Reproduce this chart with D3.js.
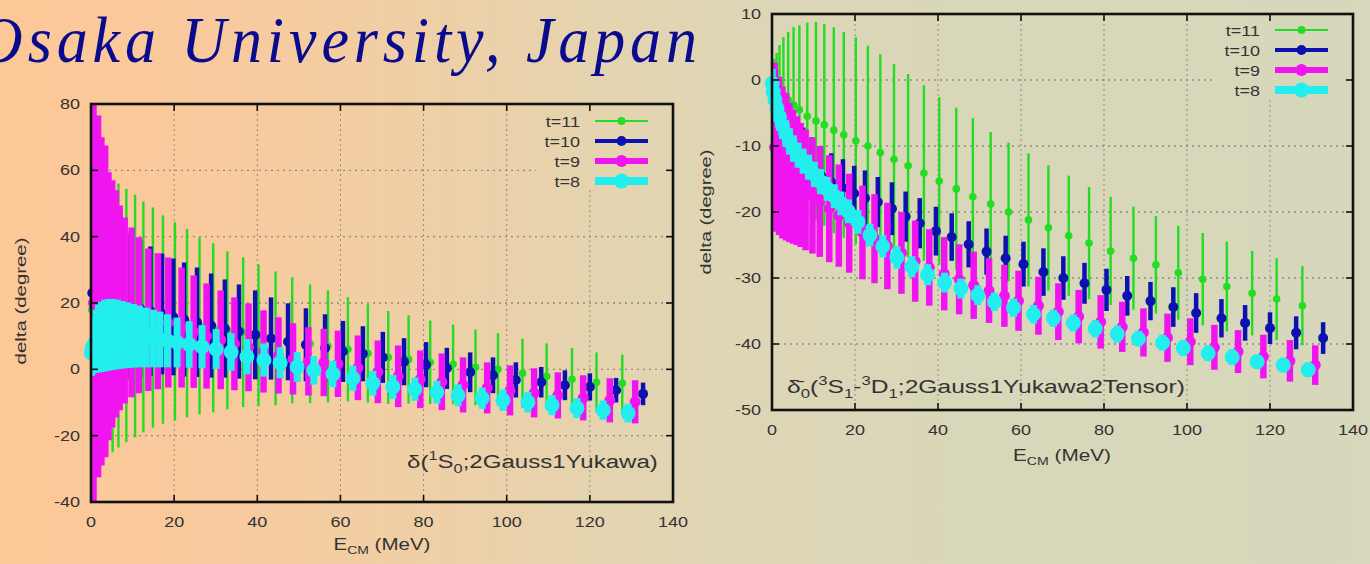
<!DOCTYPE html>
<html><head><meta charset="utf-8">
<script src="https://cdn.jsdelivr.net/npm/d3@7"></script>
<style>html,body{margin:0;padding:0;overflow:hidden;background:#e8d2ad}svg{display:block}</style>
</head><body>
<svg id="c" width="1370" height="564"></svg>
<script>
// ---------------- DATA ----------------
const titleText = "Osaka University, Japan";
const xTicks = [0, 20, 40, 60, 80, 100, 120, 140];
const yTicks1S0 = [-40, -20, 0, 20, 40, 60, 80];
const yTicksMix = [-50, -40, -30, -20, -10, 0, 10];
const seriesLabels = ["t=11", "t=10", "t=9", "t=8"];

// energies (MeV) of each time slice
const E_t11 = [0.2, 0.55, 1.1, 1.8, 2.75, 3.9, 5.2, 6.6, 8.5, 10.6, 12.6, 14.9, 17.3, 20.2, 23.1, 26.1, 29.4, 32.8, 36.6, 40.3, 44.4, 48.4, 52.7, 57, 61.8, 66.6, 71.5, 76.4, 81.6, 87.1, 92.5, 97.9, 103.8, 109.6, 115.7, 121.6, 127.8];
const E_t10 = [0.3, 0.9, 1.6, 2.6, 4.0, 5.6, 7.5, 9.5, 11.8, 14.3, 17.1, 19.8, 22.4, 25.5, 28.9, 32.2, 35.6, 39.5, 43.3, 47.4, 51.7, 56.3, 60.6, 65.4, 70.2, 75.3, 80.6, 85.6, 91.2, 96.7, 102.2, 108.3, 114, 120, 126.3, 132.8];
const E_t9 = [0.6, 1.7, 2.5, 3.4, 4.2, 5.1, 6.0, 6.9, 8.1, 9.75, 11.5, 13.8, 16.1, 18.6, 21.8, 24.7, 27.8, 31.2, 34.5, 37.9, 41.5, 45.1, 48.6, 52.3, 56, 59.4, 64.2, 69, 73.9, 79.2, 84.4, 89.5, 95.3, 100.8, 106.6, 112.3, 118.4, 124.8, 130.9];
const E_t8 = [0.05, 0.3, 0.7, 1.2, 1.8, 2.5, 3.3, 4.2, 5.2, 6.3, 7.5, 8.8, 10.2, 11.7, 13.3, 15.0, 16.6, 18.4, 20.7, 23.6, 26.7, 30.1, 33.7, 37.5, 41.6, 45.5, 49.6, 53.6, 58.2, 63, 67.8, 72.6, 77.9, 83.2, 88.3, 94.1, 99.1, 105.1, 110.9, 116.9, 123.2, 129.2];

// left panel: delta(1S0), degrees, and errors
const d1S0_t11 = [18, 18, 18, 18, 17, 16, 15, 16.2, 16.2, 16.1, 15.8, 15.6, 15, 14.5, 13.9, 13.1, 12.5, 11.75, 11.2, 10.25, 9.35, 8.75, 7.7, 6.95, 6.05, 4.8, 3.6, 3.0, 2.1, 1.5, 0.6, 0, -1.2, -2.1, -3, -3.9, -4.2];
const e1S0_t11 = [55, 52, 50, 48, 45, 42, 40, 39.8, 38.2, 36.6, 34.8, 33.2, 31.4, 29.9, 28.4, 26.7, 25.5, 23.8, 22.6, 21.4, 20.2, 19, 17.9, 16.9, 15.7, 14.8, 14.0, 13.3, 12.6, 12.0, 11.4, 10.9, 10.4, 9.9, 9.4, 9.0, 8.6];
const d1S0_t10 = [23, 22.5, 22, 22, 21, 20.5, 20, 19, 18.3, 17.5, 16.7, 15.8, 15, 14.2, 13.2, 12.3, 11.4, 10.4, 9.3, 8.3, 7.4, 6.4, 5.4, 4.7, 3.6, 2.3, 1.4, 0.3, -0.9, -1.8, -3.2, -3.9, -4.8, -5.3, -6.3, -7.4];
const e1S0_t10 = [34, 32, 30, 28, 26, 24.5, 23, 22, 20.7, 19.5, 18.2, 17.6, 17.2, 16.5, 15.7, 14.8, 14.2, 13.4, 12.4, 11.6, 11, 10.2, 9.2, 8.3, 7.7, 7.1, 6.8, 6.2, 6, 5.4, 5.3, 4.6, 4.5, 4.1, 3.7, 3.4];
const d1S0_t9 = [20, 22, 20.5, 20.5, 19, 19.75, 19.75, 18.55, 17.75, 17.2, 16.3, 14.95, 14.5, 14.1, 12.6, 11.35, 10.05, 8.9, 7.7, 6.65, 5.4, 4.2, 3.15, 2.4, 2.05, 1.65, 0.45, -0.75, -2.1, -3, -3.75, -4.7, -5.6, -6.35, -7.1, -7.85, -8.6, -9.35, -9.8];
const e1S0_t9 = [65, 54.5, 49.5, 47, 40.4, 37.25, 34.25, 30.85, 28.05, 25.6, 23.5, 21.45, 20.5, 19.6, 18.1, 16.95, 15.85, 14.9, 14, 13.25, 12.4, 11.5, 10.75, 10.3, 10.15, 10, 9.75, 9.45, 9.3, 8.7, 8.55, 8.3, 7.7, 7.55, 7.4, 6.95, 6.8, 6.65, 6.5];
const d1S0_t8 = [5, 6.5, 7.5, 8.5, 9.3, 9.8, 10.2, 10.4, 10.5, 10.5, 10.4, 10.3, 10.1, 9.9, 9.6, 9.3, 9.0, 8.6, 8.1, 7.5, 6.8, 6.1, 5.2, 3.8, 2.8, 2.0, 0.7, -0.3, -1.4, -2.7, -4.2, -5.3, -6.0, -6.9, -7.8, -8.7, -9.3, -9.9, -10.8, -11.7, -12.3, -13.2];
const e1S0_t8 = [7, 8, 8.5, 9.5, 10.2, 10.6, 10.8, 10.8, 10.7, 10.5, 10.2, 9.9, 9.6, 9.3, 9.0, 8.7, 8.4, 8.0, 7.5, 7.0, 6.5, 6.0, 5.6, 5.3, 5.0, 4.7, 4.5, 4.3, 4.0, 3.8, 3.7, 3.6, 3.5, 3.4, 3.3, 3.2, 3.2, 3.1, 3.0, 3.0, 2.9, 2.8];

// right panel: mixed delta0(3S1-3D1), degrees, and errors
const dMix_t11 = [0, -0.3, -0.8, -1.5, -2.2, -3, -3.8, -4.5, -5.5, -6.2, -6.8, -7.6, -8.3, -9.2, -10, -11, -12, -13, -14.1, -15.3, -16.5, -17.7, -18.8, -20, -21.2, -22.4, -23.6, -24.7, -25.9, -27, -28, -29.2, -30.2, -31.3, -32.3, -33.2, -34.2];
const eMix_t11 = [2.5, 3.5, 4.9, 6.8, 8.7, 10.3, 11.8, 12.8, 14.2, 15, 15.3, 15.6, 15.6, 15.7, 15.2, 14.9, 14.4, 13.9, 13.3, 12.7, 12.3, 11.9, 10.9, 10.5, 10.1, 9.5, 9.1, 8.5, 8.2, 7.8, 7.4, 7.1, 7.0, 6.8, 6.4, 6.2, 6.0];
const dMix_t10 = [-2.5, -4, -5.8, -7.5, -9.2, -10.7, -12, -13.3, -14.5, -15.5, -16.4, -17.2, -17.9, -18.5, -19.5, -20.7, -21.7, -22.9, -23.8, -24.9, -26, -27, -27.9, -29.1, -30, -30.8, -31.8, -32.7, -33.5, -34.4, -35.3, -36.1, -36.8, -37.6, -38.3, -39.1];
const eMix_t10 = [5, 5.5, 5.5, 5.5, 5.2, 5, 4.8, 4.6, 4.4, 4.4, 4.4, 4.2, 4.2, 3.8, 4, 3.8, 3.8, 3.7, 3.6, 3.5, 3.5, 3.4, 3.4, 3.6, 3.3, 3.1, 3.2, 3.0, 2.9, 3.0, 3.0, 2.9, 2.7, 2.4, 2.5, 2.4];
const dMix_t9 = [-10.2, -11.5, -12.5, -13.15, -14.05, -14.65, -15.25, -15.9, -16.65, -17.5, -18.4, -19.5, -20.55, -21.7, -23.1, -24.05, -25.15, -26.2, -27.45, -28.4, -29.35, -30.2, -31.1, -31.9, -32.7, -33.45, -34.2, -35.1, -35.85, -36.65, -37.4, -38.25, -39.05, -39.65, -40.5, -41.15, -41.9, -42.55, -43.2];
const eMix_t9 = [12.8, 12, 11.5, 11.15, 10.55, 10.15, 9.75, 9.4, 9.15, 8.8, 8.4, 8.1, 7.75, 7.5, 7.1, 6.75, 6.55, 6.2, 6.15, 5.8, 5.55, 5.3, 5.1, 4.9, 4.7, 4.55, 4.4, 4.3, 4.05, 4.05, 3.8, 3.65, 3.65, 3.55, 3.4, 3.25, 3.3, 3.15, 3.0];
const dMix_t8 = [-0.5, -1.8, -3, -4.3, -5.6, -6.9, -8.1, -9.3, -10.4, -11.4, -12.3, -13.2, -14.3, -15.4, -16.5, -17.6, -18.7, -19.9, -21.5, -23.5, -25.2, -26.9, -28.3, -29.5, -30.7, -31.6, -32.6, -33.6, -34.5, -35.5, -36.1, -36.8, -37.7, -38.5, -39.2, -39.8, -40.6, -41.4, -42, -42.7, -43.2, -43.9];
const eMix_t8 = [2.2, 2.2, 2.1, 2.1, 2.1, 2.0, 2.0, 2.0, 2.0, 1.9, 1.9, 1.9, 1.9, 1.9, 1.8, 1.8, 1.8, 1.8, 1.8, 1.7, 1.7, 1.7, 1.6, 1.6, 1.5, 1.5, 1.5, 1.4, 1.4, 1.4, 1.3, 1.3, 1.3, 1.3, 1.2, 1.2, 1.2, 1.2, 1.2, 1.1, 1.1, 1.1];

// ---------------- STYLE / LAYOUT ----------------
const FONT = "'Liberation Sans', Arial, Helvetica, sans-serif";
const TXT = "#333";
const styles = [
  {color: "#22dd22", w: 2.4, r: 3.8, lw: 2, lr: 4},
  {color: "#0c12b0", w: 4.5, r: 5, lw: 4, lr: 5},
  {color: "#f015f0", w: 6.5, r: 5.5, lw: 6, lr: 6},
  {color: "#22eeee", w: 7, r: 7.5, lw: 8, lr: 7.5}
];

const panels = [
  {
    id: "p1", left: 91, right: 673, top: 104, bottom: 502,
    yDomain: [-40, 80], yTicks: yTicks1S0,
    series: [[E_t11, d1S0_t11, e1S0_t11], [E_t10, d1S0_t10, e1S0_t10], [E_t9, d1S0_t9, e1S0_t9], [E_t8, d1S0_t8, e1S0_t8]],
    legendCut: {x: 107, y: 54},
    legend: {textX: 580, x1: 595, x2: 648, y0: 121, dy: 20},
    ylabel: {cx: 21, cy: 301, len: 127},
    xlabel: {cx: 382, y: 550, w: 97},
    note: {x: 407, y: 468, w: 251, parts: [{t: "δ("}, {t: "1", sup: true}, {t: "S"}, {t: "0", sub: true}, {t: ";2Gauss1Yukawa)"}]}
  },
  {
    id: "p2", left: 772, right: 1353, top: 14, bottom: 410,
    yDomain: [-50, 10], yTicks: yTicksMix,
    series: [[E_t11, dMix_t11, eMix_t11], [E_t10, dMix_t10, eMix_t10], [E_t9, dMix_t9, eMix_t9], [E_t8, dMix_t8, eMix_t8]],
    legendCut: {x: 106, y: -3},
    legend: {textX: 1260, x1: 1275, x2: 1328, y0: 30, dy: 20},
    ylabel: {cx: 706, cy: 212, len: 125},
    xlabel: {cx: 1062, y: 461, w: 98},
    note: {x: 787, y: 393, w: 398, parts: [{t: "δ\u0304"}, {t: "0", sub: true}, {t: "("}, {t: "3", sup: true}, {t: "S"}, {t: "1", sub: true}, {t: "-"}, {t: "3", sup: true}, {t: "D"}, {t: "1", sub: true}, {t: ";2Gauss1Yukawa2Tensor)"}]}
  }
];

// ---------------- DRAW ----------------
const svg = d3.select("#c");
const defs = svg.append("defs");
const grad = defs.append("linearGradient").attr("id", "bg").attr("x1", 0).attr("x2", 1).attr("y1", 0).attr("y2", 0);
[[0, "#fdc898"], [0.12, "#fac99b"], [0.28, "#f1cea4"], [0.42, "#e6d3ae"], [0.55, "#ddd6b6"], [0.7, "#d9d7b9"], [1, "#d6d7bb"]]
  .forEach(([o, c]) => grad.append("stop").attr("offset", o).attr("stop-color", c));
svg.append("rect").attr("width", 1370).attr("height", 564).attr("fill", "url(#bg)");

// title
const tg = svg.append("g").attr("transform", "translate(-22,62) scale(1,1.05)");
tg.append("text").attr("x", 0).attr("y", 0)
  .attr("font-family", "'Liberation Serif','Times New Roman',serif").attr("font-style", "italic")
  .attr("font-size", 62).attr("fill", "#0a0a8e")
  .attr("textLength", 719).attr("lengthAdjust", "spacing")
  .text(titleText);

function richText(parent, parts, size) {
  const t = parent.append("text").attr("x", 0).attr("y", 0)
    .attr("font-family", FONT).attr("font-size", size).attr("fill", TXT);
  let shift = 0;
  parts.forEach(p => {
    const target = p.sup ? -0.42 * size : p.sub ? 0.28 * size : 0;
    const ts = t.append("tspan").attr("dy", target - shift).text(p.t);
    if (p.sup || p.sub) ts.attr("font-size", size * 0.68);
    shift = target;
  });
  return t;
}
function fitWidth(t, w) {
  const bw = t.node().getBBox().width;
  t.attr("transform", `scale(${w / bw},1)`);
}

panels.forEach(P => {
  const x = d3.scaleLinear().domain([0, 140]).range([P.left, P.right]);
  const y = d3.scaleLinear().domain(P.yDomain).range([P.bottom, P.top]);
  const g = svg.append("g");

  defs.append("clipPath").attr("id", "clip-" + P.id).append("rect")
    .attr("x", P.left).attr("y", P.top).attr("width", P.right - P.left).attr("height", P.bottom - P.top);

  // grid
  const cutX = x(P.legendCut.x), cutY = y(P.legendCut.y);
  const grid = g.append("g").attr("stroke", "#8c8c84").attr("fill", "none");
  P.yTicks.slice(1, -1).forEach(v => {
    const yy = y(v);
    grid.append("line").attr("x1", P.left).attr("x2", yy < cutY ? cutX : P.right)
      .attr("y1", yy).attr("y2", yy).attr("stroke-width", 1.4).attr("stroke-dasharray", "2,4");
  });
  xTicks.slice(1, -1).forEach(v => {
    const xx = x(v);
    grid.append("line").attr("x1", xx).attr("x2", xx)
      .attr("y1", xx > cutX ? cutY : P.top).attr("y2", P.bottom)
      .attr("stroke-width", 1).attr("stroke-dasharray", "2,3");
  });

  // series
  P.series.forEach(([E, D, Er], si) => {
    const st = styles[si];
    const pts = E.map((e, i) => ({e, d: D[i], er: Er[i]}));
    g.append("g").attr("clip-path", `url(#clip-${P.id})`)
      .selectAll("line").data(pts).join("line")
      .attr("x1", p => x(p.e)).attr("x2", p => x(p.e))
      .attr("y1", p => y(p.d - p.er)).attr("y2", p => y(p.d + p.er))
      .attr("stroke", st.color).attr("stroke-width", st.w);
    g.append("g").selectAll("circle").data(pts).join("circle")
      .attr("cx", p => x(p.e)).attr("cy", p => y(p.d)).attr("r", st.r)
      .attr("fill", st.color);
  });

  // border + ticks
  g.append("rect").attr("x", P.left).attr("y", P.top).attr("width", P.right - P.left).attr("height", P.bottom - P.top)
    .attr("fill", "none").attr("stroke", "#111").attr("stroke-width", 2.6);
  const tk = g.append("g").attr("stroke", "#111").attr("stroke-width", 1.6);
  xTicks.forEach(v => {
    tk.append("line").attr("x1", x(v)).attr("x2", x(v)).attr("y1", P.bottom).attr("y2", P.bottom - 7);
    tk.append("line").attr("x1", x(v)).attr("x2", x(v)).attr("y1", P.top).attr("y2", P.top + 7);
  });
  P.yTicks.forEach(v => {
    tk.append("line").attr("x1", P.left).attr("x2", P.left + 7).attr("y1", y(v)).attr("y2", y(v));
    tk.append("line").attr("x1", P.right).attr("x2", P.right - 7).attr("y1", y(v)).attr("y2", y(v));
  });

  // tick labels
  xTicks.forEach(v => {
    g.append("text").attr("transform", `translate(${x(v)},${P.bottom + 25}) scale(1.2,1)`)
      .attr("text-anchor", "middle").attr("font-family", FONT).attr("font-size", 15).attr("fill", TXT).text(v);
  });
  P.yTicks.forEach(v => {
    g.append("text").attr("transform", `translate(${P.left - 11},${y(v) + 5}) scale(1.2,1)`)
      .attr("text-anchor", "end").attr("font-family", FONT).attr("font-size", 15).attr("fill", TXT).text(v);
  });

  // axis labels
  const yl = g.append("g").attr("transform", `translate(${P.ylabel.cx + 5},${P.ylabel.cy}) rotate(-90)`);
  const ylt = yl.append("text").attr("text-anchor", "middle").attr("font-family", FONT)
    .attr("font-size", 14).attr("fill", TXT).text("delta (degree)");
  fitWidth(ylt, P.ylabel.len);

  const xl = g.append("g").attr("transform", `translate(${P.xlabel.cx - P.xlabel.w / 2},${P.xlabel.y})`);
  const xlt = richText(xl, [{t: "E"}, {t: "CM", sub: true}, {t: " (MeV)"}], 16);
  fitWidth(xlt, P.xlabel.w);

  // annotation
  const ng = g.append("g").attr("transform", `translate(${P.note.x},${P.note.y})`);
  const nt = richText(ng, P.note.parts, 18);
  fitWidth(nt, P.note.w);

  // legend
  seriesLabels.forEach((lab, i) => {
    const st = styles[i];
    const yy = P.legend.y0 + i * P.legend.dy;
    g.append("text").attr("transform", `translate(${P.legend.textX},${yy + 5.5}) scale(1.2,1)`)
      .attr("text-anchor", "end").attr("font-family", FONT).attr("font-size", 15).attr("fill", TXT).text(lab);
    g.append("line").attr("x1", P.legend.x1).attr("x2", P.legend.x2).attr("y1", yy).attr("y2", yy)
      .attr("stroke", st.color).attr("stroke-width", st.lw);
    g.append("circle").attr("cx", (P.legend.x1 + P.legend.x2) / 2).attr("cy", yy).attr("r", st.lr).attr("fill", st.color);
  });
});
</script>
</body></html>
